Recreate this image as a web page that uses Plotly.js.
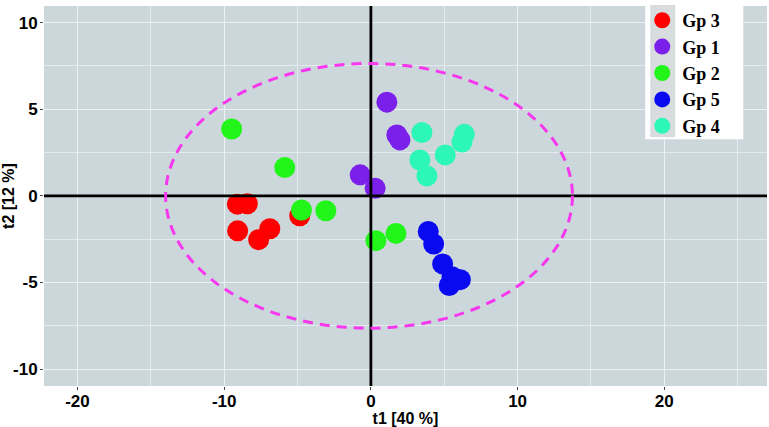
<!DOCTYPE html>
<html>
<head>
<meta charset="utf-8">
<script src="https://cdn.plot.ly/plotly-3.0.1.min.js"></script>
<style>html,body{margin:0;padding:0;background:#fff;}#chart{width:769px;height:427px;}</style>
</head>
<body>
<div id="chart"></div>
<script>
// Group names (legend order) and colours
var groupNames = ['Gp 3', 'Gp 1', 'Gp 2', 'Gp 5', 'Gp 4'];
var groupColors = ['#FF0000', '#7B1FEA', '#22F51A', '#0A0AF2', '#2CF7B6'];

// Scores t1 / t2 for each group
var gp3_t1 = [-9.10, -8.42, -9.08, -7.65, -6.89, -4.85];
var gp3_t2 = [-0.48, -0.46, -2.02, -2.53, -1.90, -1.15];
var gp1_t1 = [1.09, 1.77, 1.98, -0.73, 0.29];
var gp1_t2 = [5.41, 3.51, 3.23, 1.21, 0.44];
var gp2_t1 = [-9.49, -5.87, -4.73, -3.07, 0.34, 1.71];
var gp2_t2 = [3.86, 1.63, -0.82, -0.86, -2.59, -2.17];
var gp5_t1 = [3.91, 4.28, 4.89, 5.34, 5.53, 6.10];
var gp5_t2 = [-2.06, -2.78, -3.93, -5.18, -4.67, -4.84];
var gp4_t1 = [3.48, 6.37, 6.21, 5.07, 3.34, 3.82];
var gp4_t2 = [3.65, 3.55, 3.11, 2.36, 2.07, 1.15];

// Hotelling ellipse extents (t1 min/max, t2 min/max)
var ellipseT1 = [-13.99, 13.74];
var ellipseT2 = [-7.64, 7.64];

// Axis ticks
var xTicks = [-20, -10, 0, 10, 20];
var yTicks = [-10, -5, 0, 5, 10];

var xs = [gp3_t1, gp1_t1, gp2_t1, gp5_t1, gp4_t1];
var ys = [gp3_t2, gp1_t2, gp2_t2, gp5_t2, gp4_t2];

var traces = groupNames.map(function (name, i) {
  return {
    type: 'scatter', mode: 'markers', name: name,
    x: xs[i], y: ys[i],
    marker: {color: groupColors[i], size: 21, line: {width: 0}},
    hoverinfo: 'x+y+name'
  };
});

// pixel helpers for legend decoration (paper coords)
var L = 44, R = 766.7, T = 4, B = 386;
function px(x) { return (x - L) / (R - L); }
function py(y) { return (B - y) / (B - T); }

var tickFont = {family: 'Liberation Sans Narrow, Arial Narrow, Liberation Sans, sans-serif', size: 17, color: '#000', weight: 'bold'};
var titleFont = {family: 'Liberation Sans, Arial, sans-serif', size: 16, color: '#000', weight: 'bold'};

var layout = {
  width: 769, height: 427,
  margin: {l: L, r: 769 - R, t: T, b: 427 - B},
  paper_bgcolor: '#FFFFFF',
  plot_bgcolor: '#CCD7DB',
  showlegend: true,
  legend: {
    x: px(642), y: py(0), xanchor: 'left', yanchor: 'top',
    bgcolor: 'rgba(0,0,0,0)', borderwidth: 0,
    font: {family: 'Liberation Serif, Times New Roman, serif', size: 18, color: '#000', weight: 'bold'}
  },
  xaxis: {
    range: [-22.28, 27.0],
    tickvals: xTicks, ticktext: xTicks.map(String),
    ticks: 'outside', ticklen: 3, tickwidth: 1, tickcolor: '#444',
    tickfont: tickFont, ticklabelstandoff: -3,
    showgrid: true, gridcolor: '#EDF1F3', gridwidth: 1.3,
    minor: {dtick: 5, tick0: 0, showgrid: true, gridcolor: '#E4EBEE', gridwidth: 1, ticks: ''},
    zeroline: false, showline: false,
    title: {text: 't1 [40 %]', font: titleFont, standoff: 0}
  },
  yaxis: {
    range: [-10.98, 10.96],
    tickvals: yTicks, ticktext: yTicks.map(String),
    ticks: 'outside', ticklen: 3, tickwidth: 1, tickcolor: '#444',
    tickfont: tickFont, ticklabelstandoff: -1,
    showgrid: true, gridcolor: '#EDF1F3', gridwidth: 1.3,
    minor: {dtick: 2.5, tick0: 0, showgrid: true, gridcolor: '#E4EBEE', gridwidth: 1, ticks: ''},
    zeroline: false, showline: false,
    title: {text: 't2 [12 %]', font: titleFont, standoff: 6}
  },
  shapes: [
    // zero axis lines
    {type: 'line', xref: 'x', yref: 'paper', x0: 0, x1: 0, y0: 0, y1: 1,
     line: {color: '#000', width: 2.8}, layer: 'above'},
    {type: 'line', xref: 'paper', yref: 'y', x0: 0, x1: 1, y0: 0, y1: 0,
     line: {color: '#000', width: 2.8}, layer: 'above'},
    // Hotelling ellipse
    {type: 'circle', xref: 'x', yref: 'y',
     x0: ellipseT1[0], x1: ellipseT1[1], y0: ellipseT2[0], y1: ellipseT2[1],
     line: {color: '#F637EE', width: 3, dash: '10px,7px'}, fillcolor: 'rgba(0,0,0,0)', layer: 'above'},
    // legend box background and key column
    {type: 'rect', xref: 'paper', yref: 'paper', x0: px(645), x1: px(743), y0: py(138), y1: py(0),
     fillcolor: '#FFFFFF', line: {width: 0}, layer: 'above'},
    {type: 'rect', xref: 'paper', yref: 'paper', x0: px(650), x1: px(675), y0: py(136), y1: py(3),
     fillcolor: '#D8DCDE', line: {width: 0}, layer: 'above'}
  ]
};

Plotly.newPlot('chart', traces, layout, {displayModeBar: false, responsive: false});
</script>
</body>
</html>
